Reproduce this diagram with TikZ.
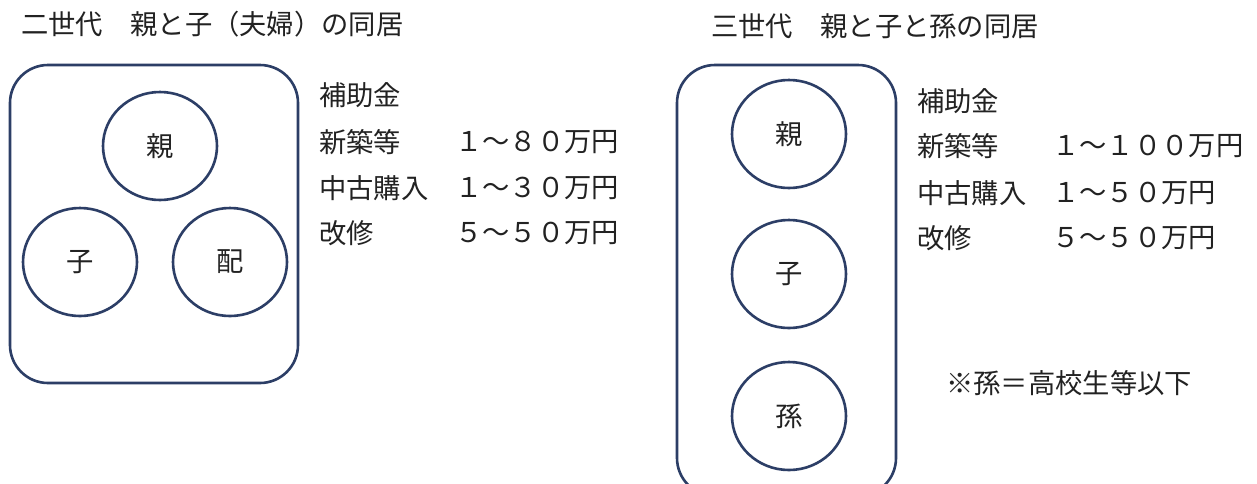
\documentclass[tikz,border=0pt]{standalone}
\usepackage{fontspec}
\setmainfont{Noto Sans CJK JP}
\usetikzlibrary{shapes.geometric}
\definecolor{linecol}{RGB}{44,62,102}
\definecolor{txtcol}{RGB}{34,34,34}
\tikzset{
  panel/.style={draw=linecol, line width=2.6pt, rounded corners=38pt},
  person/.style={ellipse, draw=linecol, line width=2.6pt, minimum width=114pt, minimum height=108pt, inner sep=0pt, text=txtcol, font=\fontsize{27.3}{31}\selectfont},
  txt/.style={anchor=west, inner sep=0pt, text=txtcol, font=\fontsize{27.3}{31}\selectfont}
}
\begin{document}
\begin{tikzpicture}[x=1pt,y=-1pt]
\useasboundingbox (0,0) rectangle (1257,483);
\clip (0,0) rectangle (1257,483);
\fill[white] (0,0) rectangle (1257,483);
% left panel
\node[txt] (t1) at (21,24) {二世代　親と子（夫婦）の同居};
\draw[panel] (10,65) rectangle (298,383);
\node[person] (p1) at (160,146) {親};
\node[person] (c1) at (80,262) {子};
\node[person] (s1) at (230,262) {配};
\node[txt] (h1) at (319,95) {補助金};
\node[txt] (a1) at (319,142) {新築等};
\node[txt] (b1) at (319,188) {中古購入};
\node[txt] (r1) at (319,233) {改修};
\node[txt] (av1) at (455,142) {１～８０万円};
\node[txt] (bv1) at (455,188) {１～３０万円};
\node[txt] (rv1) at (455,233) {５～５０万円};
% right panel
\node[txt] (t2) at (711,26) {三世代　親と子と孫の同居};
\draw[panel] (677,65) rectangle (896,496);
\node[person] (p2) at (789,134) {親};
\node[person] (c2) at (789,274) {子};
\node[person] (g2) at (789,416) {孫};
\node[txt] (h2) at (917,101) {補助金};
\node[txt] (a2) at (917,146) {新築等};
\node[txt] (b2) at (917,193) {中古購入};
\node[txt] (r2) at (917,238) {改修};
\node[txt] (av2) at (1052,146) {１～１００万円};
\node[txt] (bv2) at (1052,193) {１～５０万円};
\node[txt] (rv2) at (1052,238) {５～５０万円};
\node[txt] (note) at (946,383) {※孫＝高校生等以下};
\end{tikzpicture}
\end{document}
